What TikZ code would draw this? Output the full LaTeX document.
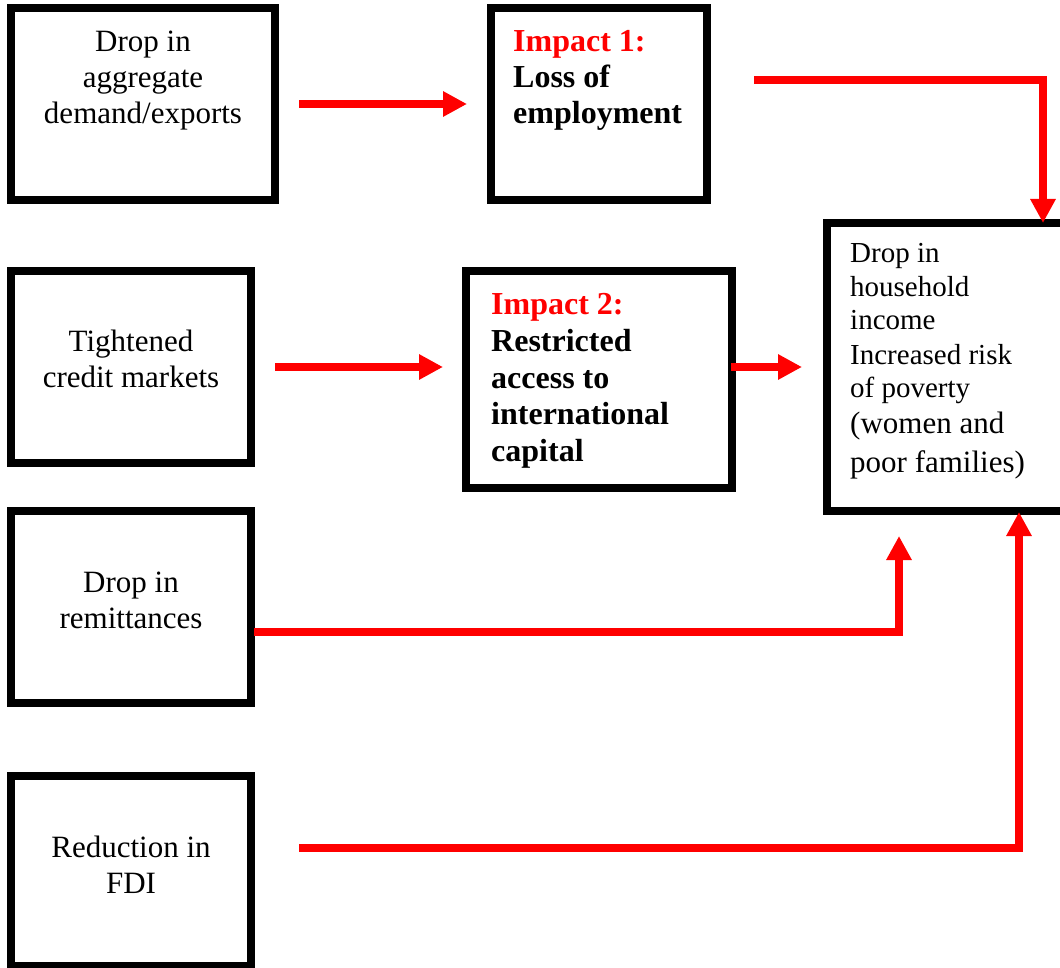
\documentclass[tikz,border=0pt]{standalone}
\usepackage{fontspec}
\setmainfont{Liberation Serif}
\usetikzlibrary{arrows.meta,calc}
\definecolor{arrred}{RGB}{255,0,0}
\begin{document}
\begin{tikzpicture}[x=1pt,y=-1pt,
 box/.style={draw=black, line width=8pt, rectangle, inner sep=0pt, fill=white},
 ctxt/.style={anchor=base, inner sep=0pt, font=\fontsize{31}{36}\selectfont},
 ltxt/.style={anchor=base west, inner sep=0pt, font=\fontsize{31}{36}\selectfont},
 btxt/.style={anchor=base west, inner sep=0pt, font=\fontsize{32}{36}\selectfont\bfseries},
 rtxt/.style={btxt, text=arrred},
 stxt/.style={anchor=base west, inner sep=0pt, font=\fontsize{29}{34}\selectfont},
 arr/.style={draw=arrred, line width=8pt, -{Triangle[length=24pt,width=24pt]}}
]
\clip (0,0) rectangle (1060,968);
\fill[white] (0,0) rectangle (1060,968);

% boxes
\node[box, minimum width=264pt, minimum height=192pt] (A) at (143,104) {};
\node[box, minimum width=216pt, minimum height=192pt] (B) at (599,104) {};
\node[box, minimum width=240pt, minimum height=192pt] (C) at (131,367) {};
\node[box, minimum width=266pt, minimum height=217pt] (I2) at (599,379.5) {};
\node[box, minimum width=240pt, minimum height=192pt] (D) at (131,607) {};
\node[box, minimum width=240pt, minimum height=190pt] (F) at (131,871) {};
\node[box, minimum width=241pt, minimum height=288pt] (E) at (947.5,367) {};

% texts
\node[ctxt] (A1) at (143,52) {Drop in};
\node[ctxt] (A2) at (143,88) {aggregate};
\node[ctxt] (A3) at (143,124) {demand/exports};

\node[rtxt] (B1) at (513,52) {Impact 1:};
\node[btxt] (B2) at (513,88) {Loss of};
\node[btxt] (B3) at (513,124) {employment};

\node[ctxt] (C1) at (131,351) {Tightened};
\node[ctxt] (C2) at (131,387) {credit markets};

\node[rtxt] (I21) at (491,315) {Impact 2:};
\node[btxt] (I22) at (491,351.5) {Restricted};
\node[btxt] (I23) at (491,388) {access to};
\node[btxt] (I24) at (491,424.5) {international};
\node[btxt] (I25) at (491,461) {capital};

\node[ctxt] (D1) at (131,592) {Drop in};
\node[ctxt] (D2) at (131,628) {remittances};

\node[ctxt] (F1) at (131,857) {Reduction in};
\node[ctxt] (F2) at (131,893) {FDI};

\node[stxt] (E1) at (850,263) {Drop in};
\node[stxt] (E2) at (850,297) {household};
\node[stxt] (E3) at (850,330) {income};
\node[stxt] (E4) at (850,364) {Increased risk};
\node[stxt] (E5) at (850,397) {of poverty};
\node[ltxt] (E6) at (850,433) {(women and};
\node[ltxt] (E7) at (850,472) {poor families)};

% connectors
\draw[arr, shorten <=20pt, shorten >=20pt] (A.east) -- (B.west);
\draw[arr] ($(C.east)+(20,0)$) -- ($(C.east -| I2.west)+(-19,0)$);
\draw[arr] ($(I2.east |- C.east)+(-5,0)$) -- ($(C.east -| E.west)+(-21,0)$);
\draw[arr] ($(B.east)+(43,-24)$) -| ($(E.north west)+(220,4)$);
\draw[arr] ($(D.east)+(-1,25)$) -| ($(E.south west)+(76,21)$);
\draw[arr] ($(F.east)+(44,-23)$) -| ($(E.south west)+(196,-3)$);
\end{tikzpicture}
\end{document}
